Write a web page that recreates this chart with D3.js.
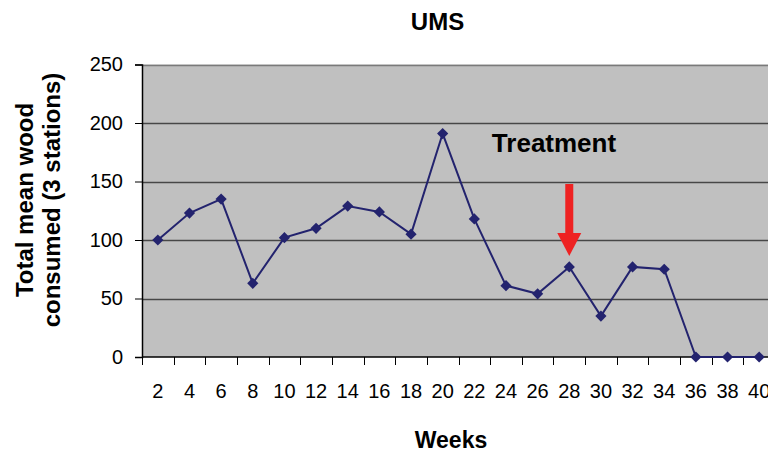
<!DOCTYPE html>
<html><head><meta charset="utf-8">
<script src="https://cdn.jsdelivr.net/npm/d3@7"></script>
<style>html,body{margin:0;padding:0;background:#fff;overflow:hidden}svg{display:block;font-family:Arial,"Liberation Sans",sans-serif}</style>
</head><body>
<script>
const weeks = ["2","4","6","8","10","12","14","16","18","20","22","24","26","28","30","32","34","36","38","40"];
const consumed = [100,123,135,63,102,110,129,124,105,191,118,61,54,77,35,77,75,0,0,0];
const yTicks = [0,50,100,150,200,250];
const treatmentWeek = "28";

const W = 768, H = 453;
const mLeft = 142, mRight = 775, mTop = 64.5, mBottom = 357;
const FONT = "Arial, 'Liberation Sans', sans-serif";

const svg = d3.select("body").append("svg").attr("width", W).attr("height", H);

const x = d3.scaleBand().domain(weeks).range([mLeft, mRight]).paddingInner(0).paddingOuter(0);
const y = d3.scaleLinear().domain([0, 250]).range([mBottom, mTop]);

svg.append("rect").attr("x", mLeft).attr("y", mTop).attr("width", mRight - mLeft).attr("height", mBottom - mTop).attr("fill", "#c0c0c0");

// gridlines
svg.append("g").selectAll("line").data(yTicks.filter(d => d > 0)).join("line")
  .attr("x1", mLeft).attr("x2", mRight)
  .attr("y1", d => Math.round(y(d)) + 0.5).attr("y2", d => Math.round(y(d)) + 0.5)
  .attr("stroke", d => d === 250 ? "#7a7a7a" : "#474747").attr("stroke-width", 1.5);

// y axis
const yAxis = d3.axisLeft(y).tickValues(yTicks).tickSize(7).tickPadding(12);
const gy = svg.append("g").attr("transform", `translate(${mLeft},0)`).call(yAxis);
gy.select(".domain").attr("stroke", "#000").attr("stroke-width", 1.5);
gy.selectAll(".tick line").attr("stroke", "#000");
gy.selectAll(".tick text").attr("font-size", 20).attr("font-family", FONT).attr("fill", "#000");

// x axis with ticks between categories
const xAxis = d3.axisBottom(x).tickSize(0).tickPadding(27);
const gx = svg.append("g").attr("transform", `translate(0,${mBottom})`).call(xAxis);
gx.select(".domain").remove();
gx.selectAll(".tick text").attr("font-size", 20).attr("font-family", FONT).attr("fill", "#000");
svg.append("line").attr("x1", mLeft).attr("x2", mRight).attr("y1", mBottom).attr("y2", mBottom).attr("stroke", "#000").attr("stroke-width", 1.5);
svg.append("g").selectAll("line").data(weeks).join("line")
  .attr("x1", d => Math.round(x(d)) + 0.5).attr("x2", d => Math.round(x(d)) + 0.5)
  .attr("y1", mBottom).attr("y2", mBottom + 8).attr("stroke", "#000").attr("stroke-width", 1);

// line
const cx = d => x(d) + x.bandwidth() / 2;
const pts = weeks.map((w, i) => [cx(w), y(consumed[i])]);
svg.append("path").attr("d", d3.line()(pts)).attr("fill", "none").attr("stroke", "#23236e").attr("stroke-width", 2);
svg.append("g").selectAll("path").data(pts).join("path")
  .attr("d", d3.symbol(d3.symbolDiamond2, 80)())
  .attr("transform", d => `translate(${d[0]},${d[1]})`)
  .attr("fill", "#23236e");

// treatment arrow
const ax = cx(treatmentWeek);
svg.append("rect").attr("x", ax - 4).attr("y", 184).attr("width", 8).attr("height", 50).attr("fill", "#ee2222");
svg.append("path").attr("d", `M${ax - 12},233 L${ax + 12},233 L${ax},256 Z`).attr("fill", "#ee2222");
svg.append("text").attr("x", 554).attr("y", 152).attr("text-anchor", "middle").attr("font-size", 26).attr("font-weight", "bold").text("Treatment");

// titles
svg.append("text").attr("x", 437.5).attr("y", 30).attr("text-anchor", "middle").attr("font-size", 24).attr("font-weight", "bold").text("UMS");
svg.append("text").attr("x", 451).attr("y", 448).attr("text-anchor", "middle").attr("font-size", 23).attr("font-weight", "bold").text("Weeks");
const yl = svg.append("text").attr("transform", "translate(0,200) rotate(-90)").attr("text-anchor", "middle").attr("font-size", 24).attr("font-weight", "bold");
yl.append("tspan").attr("x", 0).attr("y", 33).text("Total mean wood");
yl.append("tspan").attr("x", 0).attr("y", 60).text("consumed (3 stations)");
</script>
</body></html>
